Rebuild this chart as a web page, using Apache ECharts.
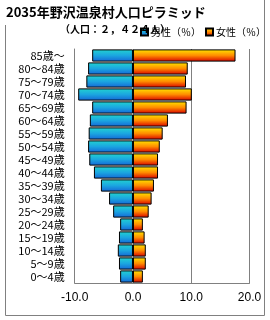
<!DOCTYPE html>
<html><head><meta charset="utf-8">
<script src="https://cdn.jsdelivr.net/npm/echarts@6/dist/echarts.min.js"></script>
<style>html,body{margin:0;padding:0;background:#fff}#c{width:270px;height:320px}</style>
</head><body><div id="c"></div>
<script>
const categories = ['0～4歳','5～9歳','10～14歳','15～19歳','20～24歳','25～29歳','30～34歳','35～39歳','40～44歳','45～49歳','50～54歳','55～59歳','60～64歳','65～69歳','70～74歳','75～79歳','80～84歳','85歳～'];
const male = [-2.2,-2.4,-2.6,-2.4,-2.2,-3.4,-4.1,-5.5,-6.7,-7.5,-7.7,-7.6,-7.4,-7.0,-9.4,-8.0,-7.7,-7.0];
const female = [1.7,2.2,2.2,2.0,1.7,2.7,3.2,3.6,4.3,4.3,4.6,5.1,6.0,9.2,10.1,9.1,9.4,17.6];
const xTicks = [-10, 0, 10, 20];
const titleText = '2035年野沢温泉村人口ピラミッド';
const subText = '（人口：２，４２４人）';
const legendNames = ['男性（％）','女性（％）'];

const F = '"Noto Sans CJK JP", sans-serif';
const maleGrad = new echarts.graphic.LinearGradient(0,0,0,1,[{offset:0,color:'#22D4D0'},{offset:0.5,color:'#1BA6E0'},{offset:1,color:'#1466D6'}]);
const femGrad = new echarts.graphic.LinearGradient(0,0,0,1,[{offset:0,color:'#FFE600'},{offset:0.5,color:'#FF8C00'},{offset:1,color:'#D80000'}]);
const chart = echarts.init(document.getElementById('c'), null, {renderer:'canvas'});
chart.setOption({
  animation:false,
  textStyle:{fontFamily:F},
  title:[
    {text:titleText,left:6,top:6,padding:0,textStyle:{fontSize:13,fontWeight:'bold',color:'#000',fontFamily:F}},
    {text:subText,left:60,top:24,padding:0,textStyle:{fontSize:10,fontWeight:'bold',color:'#000',fontFamily:F}}
  ],
  legend:{left:140,top:27,padding:0,itemWidth:7,itemHeight:7,itemGap:4,
    textStyle:{fontSize:10,color:'#000',fontFamily:F,padding:[0,0,0,-2]},
    data:[{name:legendNames[0],icon:'rect'},{name:legendNames[1],icon:'rect'}]},
  grid:{left:74.7,right:20.5,top:49,bottom:37,containLabel:false},
  xAxis:{type:'value',min:xTicks[0],max:xTicks[xTicks.length-1],interval:10,
    axisLine:{show:true,onZero:false,lineStyle:{color:'#808080'}},
    axisTick:{show:false},
    splitLine:{show:true,lineStyle:{color:'#808080',width:1}},
    axisLabel:{fontSize:12,color:'#000',margin:9,fontFamily:'"Liberation Sans", Arial, sans-serif',formatter:v=>v.toFixed(1)}},
  yAxis:{type:'category',data:categories,
    axisLine:{show:true,onZero:false,lineStyle:{color:'#808080'}},
    axisTick:{show:false},
    axisLabel:{interval:0,fontSize:11,color:'#000',margin:10,fontFamily:F}},
  series:[
    {name:legendNames[0],type:'bar',data:male,barGap:'-100%',barCategoryGap:'6%',
      itemStyle:{color:maleGrad,borderColor:'#000',borderWidth:1}},
    {name:legendNames[1],type:'bar',data:female,barGap:'-100%',barCategoryGap:'6%',
      itemStyle:{color:femGrad,borderColor:'#000',borderWidth:1}}
  ],
  graphic:[{type:'polyline',silent:true,shape:{points:[[5.5,25],[5.5,315.5],[264.5,315.5],[264.5,0]]},style:{stroke:'#808080',fill:null,lineWidth:1}}]
});
</script></body></html>
